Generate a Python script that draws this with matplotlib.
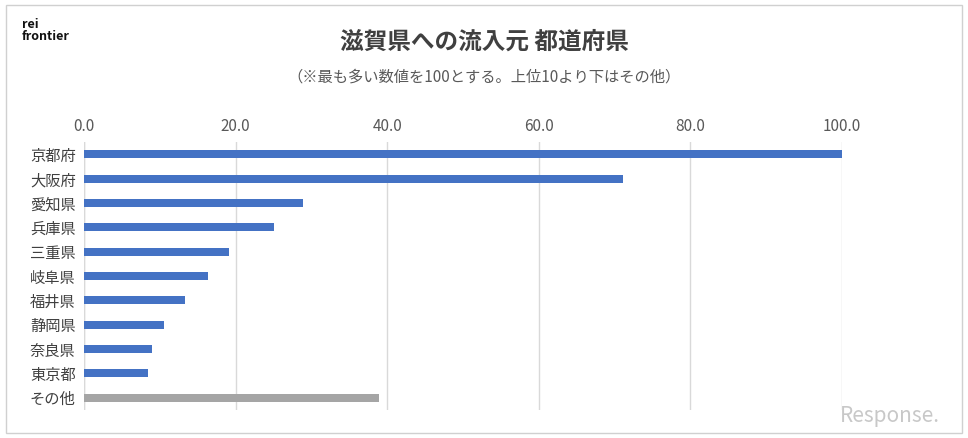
import matplotlib.pyplot as plt
from matplotlib.patches import Rectangle

plt.rcParams['font.family'] = 'Noto Sans CJK JP'

prefs = ['京都府', '大阪府', '愛知県', '兵庫県', '三重県', '岐阜県',
         '福井県', '静岡県', '奈良県', '東京都', 'その他']
values = [100.0, 71.1, 28.9, 25.1, 19.1, 16.4, 13.3, 10.6, 9.0, 8.4, 38.9]
ticks = [0, 20, 40, 60, 80, 100]

colors = ['#4472C4'] * 10 + ['#A5A5A5']

fig = plt.figure(figsize=(9.68, 4.38), dpi=100)
fig.patches.append(Rectangle((0.006, 0.012), 0.988, 0.976, transform=fig.transFigure,
                             fill=False, edgecolor='#D0D0D0', linewidth=1))

ax = fig.add_axes([84 / 968, 1 - 410 / 438, (842 - 84) / 968, (410 - 142) / 438])
y = list(range(len(prefs)))
ax.barh(y, values, height=0.33, color=colors, zorder=3)
ax.set_ylim(len(prefs) - 0.5, -0.5)
ax.set_xlim(0, 100)
ax.set_xticks(ticks)
ax.set_xticklabels(['%.1f' % t for t in ticks], fontsize=11, color='#595959')
ax.xaxis.tick_top()
ax.tick_params(axis='x', length=0, pad=5)
ax.set_yticks(y)
ax.set_yticklabels(prefs, fontsize=11, color='#404040')
ax.tick_params(axis='y', length=0, pad=6)
ax.grid(axis='x', color='#D9D9D9', linewidth=1, zorder=0)
for s in ax.spines.values():
    s.set_visible(False)
ax.axvline(0, color='#D9D9D9', linewidth=1, zorder=0)

fig.text(0.5, 1 - 42 / 438, '滋賀県への流入元 都道府県', ha='center', va='center',
         fontsize=17, fontweight='bold', color='#404040')
fig.text(0.5, 1 - 77 / 438, '（※最も多い数値を100とする。上位10より下はその他）', ha='center',
         va='center', fontsize=11, color='#595959')
fig.text(22 / 968, 1 - 30 / 438, 'rei\nfrontier', ha='left', va='center', fontsize=9,
         fontweight='bold', color='#111111', linespacing=0.9)
fig.text(940 / 968, 1 - 416 / 438, 'Response.', ha='right', va='center', fontsize=15,
         style='italic', color='#C8C8C8')

fig.savefig('out.png', dpi=100)
